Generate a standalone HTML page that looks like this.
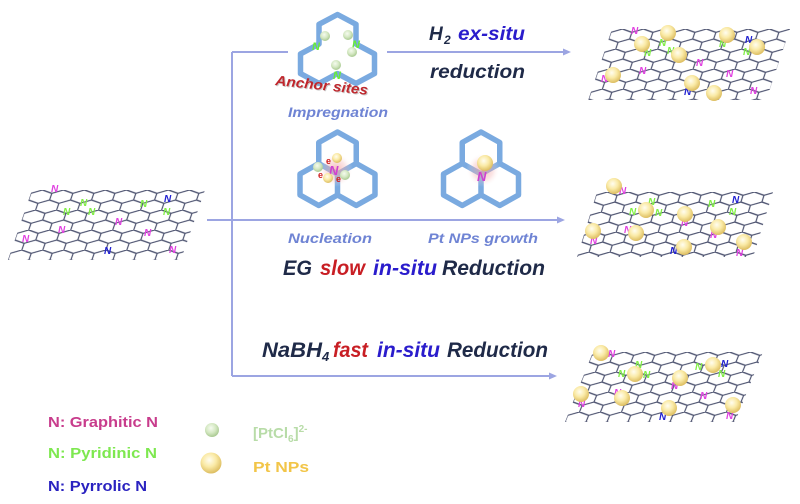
<!DOCTYPE html>
<html><head><meta charset="utf-8"><style>
html,body{margin:0;padding:0;background:#fff;}
svg{display:block;}
text{font-family:"Liberation Sans",Arial,sans-serif;font-weight:bold;}
.it{font-style:italic;}
</style></head><body>
<svg width="800" height="504" viewBox="0 0 800 504" xmlns="http://www.w3.org/2000/svg">
<defs>
<pattern id="hex" patternUnits="userSpaceOnUse" width="21" height="20">
<path d="M0,3.33 L10.5,0 L21,3.33 M0,3.33 V10 M21,3.33 V10 M0,10 L10.5,13.33 L21,10 M10.5,13.33 V20" fill="none" stroke="#4d5370" stroke-width="1.25"/>
</pattern>
<radialGradient id="ball" cx="0.42" cy="0.36" r="0.65">
<stop offset="0" stop-color="#fffdf0"/><stop offset="0.5" stop-color="#faeaa6"/><stop offset="1" stop-color="#dcbc5e"/>
</radialGradient>
<radialGradient id="gball" cx="0.42" cy="0.36" r="0.65">
<stop offset="0" stop-color="#f6fbf0"/><stop offset="0.55" stop-color="#d4e8c2"/><stop offset="1" stop-color="#a8c890"/>
</radialGradient>
<radialGradient id="glow" cx="0.5" cy="0.5" r="0.5">
<stop offset="0" stop-color="#f0a0a0" stop-opacity="0.75"/><stop offset="0.6" stop-color="#f4b8b8" stop-opacity="0.35"/><stop offset="1" stop-color="#ffffff" stop-opacity="0"/>
</radialGradient>
</defs>

<!-- connectors -->
<g stroke="#9ca5e2" stroke-width="2" fill="none">
<path d="M232,52 V376"/>
<path d="M232,52 H288"/>
<path d="M387,52 H564"/>
<path d="M207,220 H558"/>
<path d="M232,376 H550"/>
</g>
<g fill="#9ca5e2">
<polygon points="571,52 563,48.5 563,55.5"/>
<polygon points="565,220 557,216.5 557,223.5"/>
<polygon points="557,376 549,372.5 549,379.5"/>
</g>

<!-- graphene sheets -->
<g transform="translate(32,190) skewX(-19)"><rect x="0" y="0" width="173" height="70" fill="url(#hex)"/></g>
<g transform="translate(612,29) skewX(-18.5)"><rect x="0" y="0" width="178" height="71" fill="url(#hex)"/></g>
<g transform="translate(597,192) skewX(-17)"><rect x="0" y="0" width="176" height="65" fill="url(#hex)"/></g>
<g transform="translate(593,352) skewX(-21.8)"><rect x="0" y="0" width="170" height="70" fill="url(#hex)"/></g>

<!-- N labels left sheet -->
<g font-size="10">
<text class="it" x="51" y="192" fill="#e040e0">N</text>
<text class="it" x="80" y="206" fill="#80ee44">N</text>
<text class="it" x="63" y="215" fill="#80ee44">N</text>
<text class="it" x="88" y="215" fill="#80ee44">N</text>
<text class="it" x="140" y="207" fill="#80ee44">N</text>
<text class="it" x="164" y="202" fill="#2020d0">N</text>
<text class="it" x="163" y="215" fill="#80ee44">N</text>
<text class="it" x="115" y="225" fill="#e040e0">N</text>
<text class="it" x="58" y="233" fill="#e040e0">N</text>
<text class="it" x="144" y="236" fill="#e040e0">N</text>
<text class="it" x="22" y="242" fill="#e040e0">N</text>
<text class="it" x="169" y="253" fill="#e040e0">N</text>
<text class="it" x="104" y="254" fill="#2020d0">N</text>
</g>

<!-- top-right sheet decorations -->
<g font-size="10">
<text class="it" x="631" y="34" fill="#e040e0">N</text>
<text class="it" x="659" y="46" fill="#80ee44">N</text>
<text class="it" x="719" y="47" fill="#80ee44">N</text>
<text class="it" x="745" y="43" fill="#2020d0">N</text>
<text class="it" x="743" y="55" fill="#80ee44">N</text>
<text class="it" x="644" y="56" fill="#80ee44">N</text>
<text class="it" x="667" y="54" fill="#80ee44">N</text>
<text class="it" x="696" y="66" fill="#e040e0">N</text>
<text class="it" x="639" y="74" fill="#e040e0">N</text>
<text class="it" x="601" y="82" fill="#e040e0">N</text>
<text class="it" x="726" y="77" fill="#e040e0">N</text>
<text class="it" x="684" y="95" fill="#2020d0">N</text>
<text class="it" x="750" y="94" fill="#e040e0">N</text>
</g>
<g fill="url(#ball)">
<circle cx="668" cy="33" r="8"/>
<circle cx="727" cy="35" r="8"/>
<circle cx="757" cy="47" r="8"/>
<circle cx="642" cy="44" r="8"/>
<circle cx="679" cy="55" r="8"/>
<circle cx="613" cy="75" r="8"/>
<circle cx="692" cy="83" r="8"/>
<circle cx="714" cy="93" r="8"/>
</g>

<!-- middle-right sheet -->
<g font-size="10">
<text class="it" x="619" y="194" fill="#e040e0">N</text>
<text class="it" x="648" y="205" fill="#80ee44">N</text>
<text class="it" x="629" y="215" fill="#80ee44">N</text>
<text class="it" x="655" y="216" fill="#80ee44">N</text>
<text class="it" x="681" y="226" fill="#e040e0">N</text>
<text class="it" x="708" y="207" fill="#80ee44">N</text>
<text class="it" x="732" y="203" fill="#2020d0">N</text>
<text class="it" x="729" y="215" fill="#80ee44">N</text>
<text class="it" x="710" y="238" fill="#e040e0">N</text>
<text class="it" x="590" y="244" fill="#e040e0">N</text>
<text class="it" x="624" y="233" fill="#e040e0">N</text>
<text class="it" x="670" y="254" fill="#2020d0">N</text>
<text class="it" x="736" y="256" fill="#e040e0">N</text>
</g>
<g fill="url(#ball)">
<circle cx="614" cy="186" r="8"/>
<circle cx="646" cy="210" r="8"/>
<circle cx="685" cy="214" r="8"/>
<circle cx="718" cy="227" r="8"/>
<circle cx="593" cy="231" r="8"/>
<circle cx="636" cy="233" r="8"/>
<circle cx="684" cy="247" r="8"/>
<circle cx="744" cy="242" r="8"/>
</g>

<!-- bottom-right sheet -->
<g font-size="10">
<text class="it" x="608" y="357" fill="#e040e0">N</text>
<text class="it" x="635" y="368" fill="#80ee44">N</text>
<text class="it" x="618" y="377" fill="#80ee44">N</text>
<text class="it" x="643" y="378" fill="#80ee44">N</text>
<text class="it" x="671" y="389" fill="#e040e0">N</text>
<text class="it" x="695" y="370" fill="#80ee44">N</text>
<text class="it" x="721" y="367" fill="#2020d0">N</text>
<text class="it" x="718" y="377" fill="#80ee44">N</text>
<text class="it" x="578" y="407" fill="#e040e0">N</text>
<text class="it" x="614" y="396" fill="#e040e0">N</text>
<text class="it" x="700" y="399" fill="#e040e0">N</text>
<text class="it" x="659" y="420" fill="#2020d0">N</text>
<text class="it" x="726" y="419" fill="#e040e0">N</text>
</g>
<g fill="url(#ball)">
<circle cx="601" cy="353" r="8"/>
<circle cx="635" cy="374" r="8"/>
<circle cx="680" cy="378" r="8"/>
<circle cx="713" cy="365" r="8"/>
<circle cx="581" cy="394" r="8"/>
<circle cx="622" cy="398" r="8"/>
<circle cx="669" cy="408" r="8"/>
<circle cx="733" cy="405" r="8"/>
</g>

<!-- top cluster: anchor sites -->
<path d="M337.5,14.5 L356,24.35 L356,44.05 L374.5,53.9 L374.5,73.6 L356,83.45 L337.5,73.6 L319,83.45 L300.5,73.6 L300.5,53.9 L319,44.05 L319,24.35 Z" fill="none" stroke="#7aaae0" stroke-width="5.5" stroke-linejoin="round"/>
<g font-size="11">
<text class="it" x="312" y="50" fill="#66ee33">N</text>
<text class="it" x="352" y="48" fill="#66ee33">N</text>
<text class="it" x="333" y="79" fill="#66ee33">N</text>
</g>
<g fill="url(#gball)">
<circle cx="325" cy="36" r="5"/>
<circle cx="348" cy="35" r="5"/>
<circle cx="352" cy="52" r="5"/>
<circle cx="336" cy="65" r="5"/>
</g>
<text class="it" transform="translate(276,86) rotate(6)" font-size="14" textLength="93" lengthAdjust="spacingAndGlyphs" fill="#999" opacity="0.5">Anchor sites</text>
<text class="it" transform="translate(275,85) rotate(6)" font-size="14" textLength="93" lengthAdjust="spacingAndGlyphs" fill="#c0262c">Anchor sites</text>

<!-- nucleation / growth clusters -->
<g fill="none" stroke="#7aaae0" stroke-width="5.5" stroke-linejoin="round" stroke-linecap="round">
<path d="M337.5,132 L356.25,142.5 L356.25,163.5 L375,174 L375,195 L356.25,205.5 L337.5,195 L318.75,205.5 L300,195 L300,174 L318.75,163.5 L318.75,142.5 Z M318.75,163.5 L337.5,174 L356.25,163.5 M337.5,174 L337.5,195"/>
<path transform="translate(143.5,0)" d="M337.5,132 L356.25,142.5 L356.25,163.5 L375,174 L375,195 L356.25,205.5 L337.5,195 L318.75,205.5 L300,195 L300,174 L318.75,163.5 L318.75,142.5 Z M318.75,163.5 L337.5,174 L356.25,163.5 M337.5,174 L337.5,195"/>
</g>
<circle cx="336" cy="170" r="17" fill="url(#glow)"/>
<circle cx="483" cy="170" r="17" fill="url(#glow)"/>
<circle cx="318" cy="167" r="5" fill="url(#gball)"/>
<circle cx="345" cy="175" r="5" fill="url(#gball)"/>
<text class="it" x="329" y="175" font-size="13" fill="#d040d0">N</text>
<circle cx="337" cy="158" r="5" fill="url(#ball)"/>
<circle cx="328" cy="178" r="5" fill="url(#ball)"/>
<g font-size="9" fill="#d02020">
<text x="326" y="164">e</text>
<text x="318" y="178">e</text>
<text x="336" y="182">e</text>
</g>
<text class="it" x="477" y="181" font-size="13" fill="#d040d0">N</text>
<circle cx="485" cy="163" r="8" fill="url(#ball)"/>

<!-- labels -->
<text class="it" x="288" y="117" font-size="14" textLength="100" lengthAdjust="spacingAndGlyphs" fill="#6f84d4">Impregnation</text>
<text class="it" x="288" y="243" font-size="14" textLength="84" lengthAdjust="spacingAndGlyphs" fill="#6f84d4">Nucleation</text>
<text class="it" x="428" y="243" font-size="14" textLength="110" lengthAdjust="spacingAndGlyphs" fill="#6f84d4">Pt NPs growth</text>

<text class="it" x="429" y="40" font-size="19" fill="#1f2a48">H</text>
<text class="it" x="444" y="44" font-size="12" fill="#1f2a48">2</text>
<text class="it" x="458" y="40" font-size="19" textLength="67" lengthAdjust="spacingAndGlyphs" fill="#2a1ccc">ex-situ</text>
<text class="it" x="430" y="78" font-size="19" textLength="95" lengthAdjust="spacingAndGlyphs" fill="#1f2a48">reduction</text>

<g font-size="21">
<text class="it" x="283" y="275" textLength="29" lengthAdjust="spacingAndGlyphs" fill="#1f2a48">EG</text>
<text class="it" x="320" y="275" textLength="45" lengthAdjust="spacingAndGlyphs" fill="#c81e24">slow</text>
<text class="it" x="373" y="275" textLength="64" lengthAdjust="spacingAndGlyphs" fill="#2a1ccc">in-situ</text>
<text class="it" x="442" y="275" textLength="103" lengthAdjust="spacingAndGlyphs" fill="#1f2a48">Reduction</text>

<text class="it" x="262" y="357" textLength="60" lengthAdjust="spacingAndGlyphs" fill="#1f2a48">NaBH</text>
<text class="it" x="322" y="361" font-size="13" fill="#1f2a48">4</text>
<text class="it" x="333" y="357" textLength="35" lengthAdjust="spacingAndGlyphs" fill="#c81e24">fast</text>
<text class="it" x="377" y="357" textLength="63" lengthAdjust="spacingAndGlyphs" fill="#2a1ccc">in-situ</text>
<text class="it" x="447" y="357" textLength="101" lengthAdjust="spacingAndGlyphs" fill="#1f2a48">Reduction</text>
</g>

<!-- legend -->
<g font-size="15">
<text x="48" y="427" textLength="110" lengthAdjust="spacingAndGlyphs" fill="#c83c8c">N: Graphitic N</text>
<text x="48" y="458" textLength="109" lengthAdjust="spacingAndGlyphs" fill="#7ee850">N: Pyridinic N</text>
<text x="48" y="491" textLength="99" lengthAdjust="spacingAndGlyphs" fill="#2a22c0">N: Pyrrolic N</text>
<text x="253" y="438" fill="#b8dca8">[PtCl<tspan font-size="10" dy="4">6</tspan><tspan dy="-4">]</tspan><tspan font-size="10" dy="-6">2-</tspan></text>
<text x="253" y="472" textLength="56" lengthAdjust="spacingAndGlyphs" fill="#f2c548">Pt NPs</text>
</g>
<circle cx="212" cy="430" r="7" fill="url(#gball)"/>
<circle cx="211" cy="463" r="10.5" fill="url(#ball)"/>
</svg>
</body></html>
